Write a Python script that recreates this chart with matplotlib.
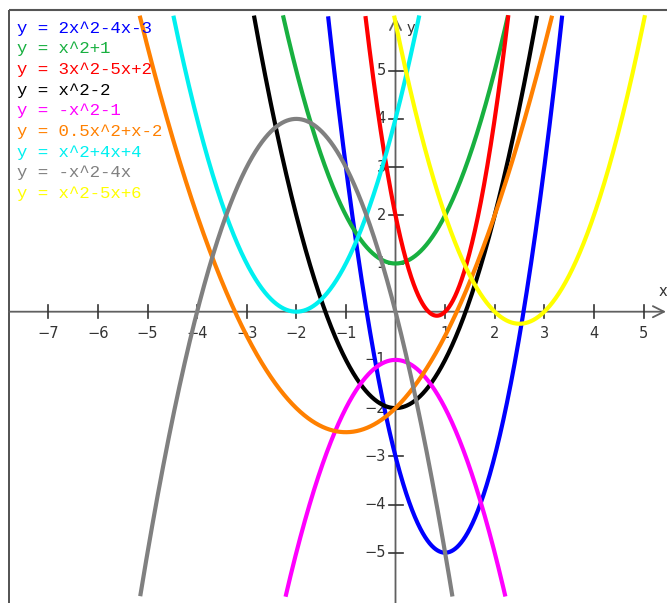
import numpy as np
import matplotlib
matplotlib.use("Agg")
import matplotlib.pyplot as plt

labels = ["y = 2x^2-4x-3", "y = x^2+1", "y = 3x^2-5x+2", "y = x^2-2",
          "y = -x^2-1", "y = 0.5x^2+x-2", "y = x^2+4x+4", "y = -x^2-4x",
          "y = x^2-5x+6"]
coef_a = [2, 1, 3, 1, -1, 0.5, 1, -1, 1]
coef_b = [-4, 0, -5, 0, 0, 1, 4, -4, -5]
coef_c = [-3, 1, 2, -2, -1, -2, 4, 0, 6]
colors = ["#0000ff", "#18b040", "#ff0000", "#000000", "#ff00ff",
          "#ff8000", "#00f0f0", "#808080", "#ffff00"]
x_ticks = [-7, -6, -5, -4, -3, -2, -1, 1, 2, 3, 4, 5]
y_ticks = [-5, -4, -3, -2, -1, 1, 2, 3, 4, 5]

# ---- figure: one axes filling the figure, data scale mapped to pixels ----
W, H = 667, 603
x0_px, y0_px = 395.5, 311.7      # pixel of origin
ux, uy = 49.6, 48.2              # pixels per unit
fig = plt.figure(figsize=(W / 100, H / 100), dpi=100)
ax = fig.add_axes([0, 0, 1, 1])
ax.set_xlim(-x0_px / ux, (W - x0_px) / ux)
ax.set_ylim((y0_px - H) / uy, y0_px / uy)
ax.axis("off")

def px_x(p):
    return (p - x0_px) / ux

def px_y(p):
    return (y0_px - p) / uy

# frame (left and top only visible)
fx, fy = px_x(9), px_y(10)
ax.plot([fx, fx], [px_y(610), fy], color="#444444", lw=1.3, zorder=1,
        solid_capstyle="butt")
ax.plot([fx, px_x(680)], [fy, fy], color="#555555", lw=1.5, zorder=1,
        solid_capstyle="butt")

axis_col = "#606060"
# x axis with arrow
ax.annotate("", xy=(px_x(666), 0), xytext=(fx, 0),
            arrowprops=dict(arrowstyle="->,head_length=0.8,head_width=0.4",
                            color=axis_col, lw=1.3, shrinkA=0, shrinkB=0),
            zorder=2)
# y axis with arrow
ax.annotate("", xy=(0, px_y(17)), xytext=(0, px_y(610)),
            arrowprops=dict(arrowstyle="->,head_length=0.8,head_width=0.4",
                            color=axis_col, lw=1.3, shrinkA=0, shrinkB=0),
            zorder=2)

tick_col = "#333333"
tx = 6.5 / uy
for t in x_ticks:
    ax.plot([t, t], [-tx, tx], color=tick_col, lw=1.2, zorder=2)
    ax.text(t, px_y(333), str(t).replace("-", "\u2212"), ha="center",
            va="center", fontsize=10.5, color=tick_col, zorder=2,
            family="DejaVu Sans")
ty = 7 / ux
for t in y_ticks:
    ax.plot([-ty, ty], [t, t], color=tick_col, lw=1.2, zorder=2)
    ax.text(px_x(386), t, str(t).replace("-", "\u2212"), ha="right",
            va="center", fontsize=10.5, color=tick_col, zorder=2,
            family="DejaVu Sans")
ax.text(px_x(663), px_y(291), "x", ha="center", va="center", fontsize=10.5,
        color=tick_col)
ax.text(px_x(411), px_y(28), "y", ha="center", va="center", fontsize=10.5,
        color=tick_col)

# ---- curves ----
xs = np.linspace(-8, 6, 4000)
ylo, yhi = px_y(597), px_y(15)
for i, (a, b, c, col) in enumerate(zip(coef_a, coef_b, coef_c, colors)):
    ys = a * xs ** 2 + b * xs + c
    ys = np.where((ys >= ylo) & (ys <= yhi), ys, np.nan)
    ax.plot(xs, ys, color=col, lw=3.0, zorder=3 + i, solid_capstyle="butt")

# ---- legend text ----
for i, (lab, col) in enumerate(zip(labels, colors)):
    ax.text(px_x(17), px_y(28 + i * 20.7), lab, ha="left", va="center",
            fontsize=12.5, family="Liberation Mono", color=col, zorder=20)

fig.savefig("out.png", dpi=100)
